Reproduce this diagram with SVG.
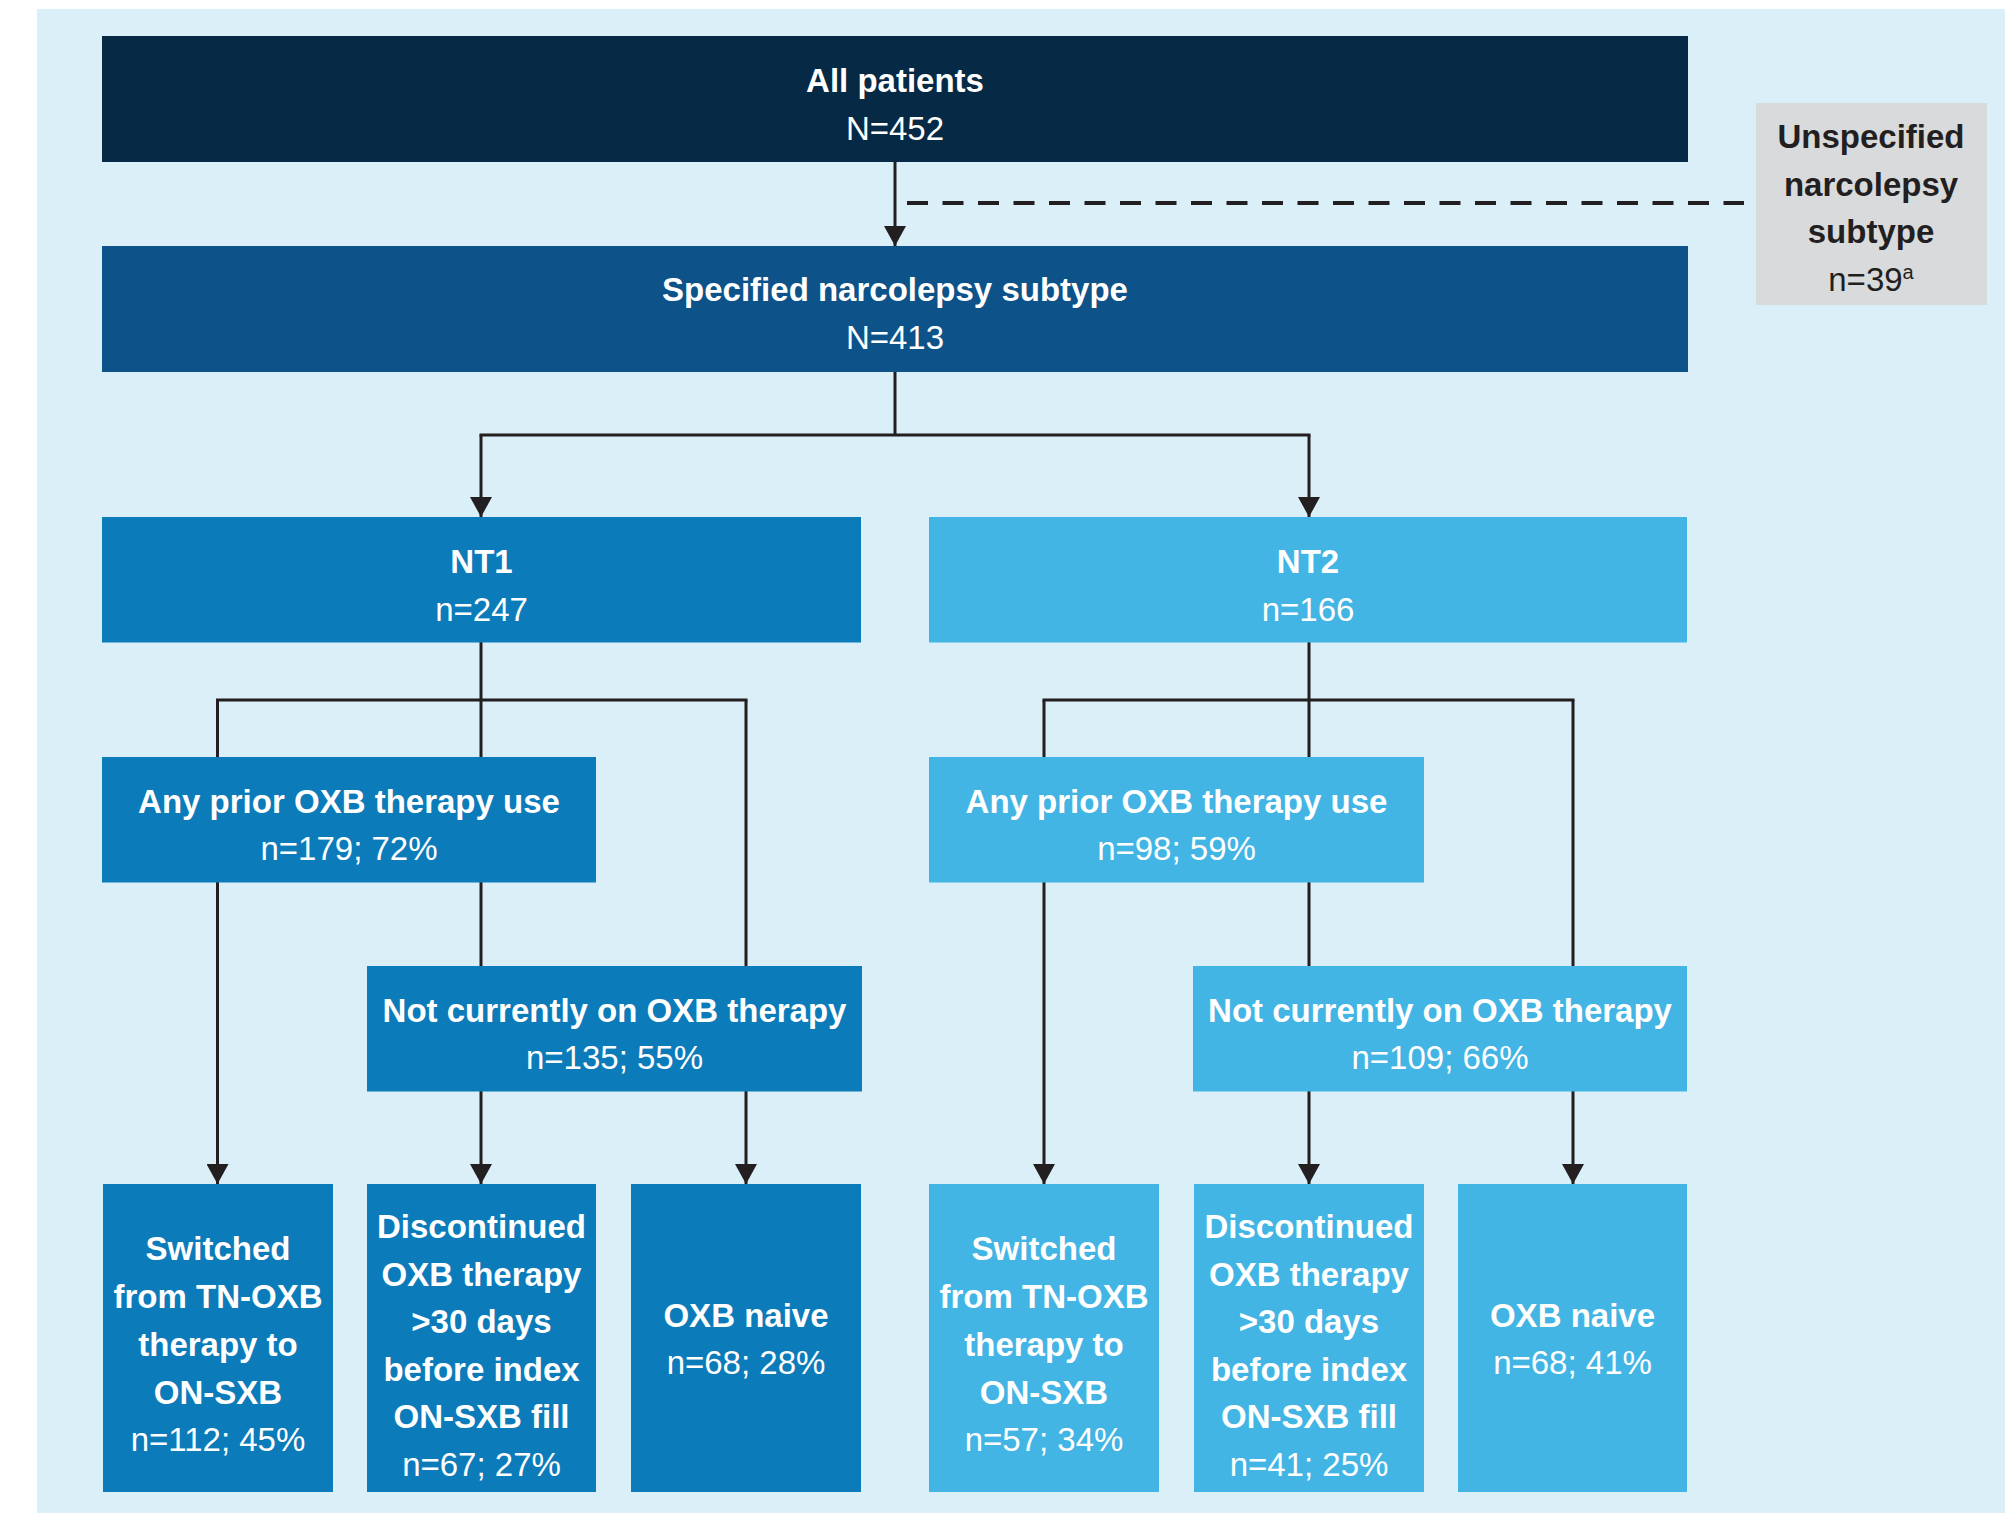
<svg xmlns="http://www.w3.org/2000/svg" width="2005" height="1513" viewBox="0 0 2005 1513">
<style>
text{font-family:"Liberation Sans",Arial,sans-serif;font-size:33px;text-anchor:middle;fill:#ffffff}
.b{font-weight:bold}
.dk{fill:#231F20}
.ln{fill:none;stroke:#231F20;stroke-width:3}
.ar{marker-end:url(#ah)}
.dash{fill:none;stroke:#231F20;stroke-width:4;stroke-dasharray:21 14.5}
.c0{fill:#062945}.c1{fill:#0D5289}.c2{fill:#0C7BBA}.c3{fill:#43B5E4}.cg{fill:#D9DADC}
</style>
<defs>
<marker id="ah" markerUnits="userSpaceOnUse" viewBox="0 0 20 22" refX="20" refY="11" markerWidth="20" markerHeight="22" orient="auto">
<path d="M0,0 L20,11 L0,22 Z" fill="#231F20"/>
</marker>
</defs>
<rect x="0" y="0" width="2005" height="1513" fill="#ffffff"/>
<rect x="37" y="9" width="1968" height="1504" fill="#DAEFF8"/>
<g id="connectors">
<path class="ln ar" d="M895,162 V246"/>
<path class="dash" d="M907,203 H1744"/>
<path class="ln" d="M895,372 V435"/>
<path class="ln" d="M481,435 H1309" stroke-linecap="square"/>
<path class="ln ar" d="M481,435 V517"/>
<path class="ln ar" d="M1309,435 V517"/>
<path class="ln" d="M481,642 V700"/>
<path class="ln" d="M217.5,700 H746" stroke-linecap="square"/>
<path class="ln ar" d="M217.5,700 V1184"/>
<path class="ln ar" d="M481,700 V1184"/>
<path class="ln ar" d="M746,700 V1184"/>
<path class="ln" d="M1309,642 V700"/>
<path class="ln" d="M1044,700 H1573" stroke-linecap="square"/>
<path class="ln ar" d="M1044,700 V1184"/>
<path class="ln ar" d="M1309,700 V1184"/>
<path class="ln ar" d="M1573,700 V1184"/>
</g>
<g id="all-patients">
<rect class="c0" x="102" y="36" width="1586" height="126"/>
<text class="b" x="895" y="92">All patients</text>
<text x="895" y="139.5">N=452</text>
</g>
<g id="unspecified">
<rect class="cg" x="1756" y="103" width="231" height="202"/>
<text class="b dk" x="1871" y="148">Unspecified</text>
<text class="b dk" x="1871" y="196">narcolepsy</text>
<text class="b dk" x="1871" y="243">subtype</text>
<text class="dk" x="1871" y="291">n=39<tspan font-size="20" dy="-12">a</tspan></text>
</g>
<g id="specified">
<rect class="c1" x="102" y="246" width="1586" height="126"/>
<text class="b" x="895" y="301">Specified narcolepsy subtype</text>
<text x="895" y="349">N=413</text>
</g>
<g id="nt1">
<rect class="c2" x="102" y="517" width="759" height="125.5"/>
<text class="b" x="481.5" y="573">NT1</text>
<text x="481.5" y="621">n=247</text>
</g>
<g id="nt2">
<rect class="c3" x="929" y="517" width="758" height="125.5"/>
<text class="b" x="1308" y="573">NT2</text>
<text x="1308" y="621">n=166</text>
</g>
<g id="nt1-prior">
<rect class="c2" x="102" y="757" width="494" height="125.5"/>
<text class="b" x="349" y="813">Any prior OXB therapy use</text>
<text x="349" y="860">n=179; 72%</text>
</g>
<g id="nt2-prior">
<rect class="c3" x="929" y="757" width="495" height="125.5"/>
<text class="b" x="1176.5" y="813">Any prior OXB therapy use</text>
<text x="1176.5" y="860">n=98; 59%</text>
</g>
<g id="nt1-notcurrent">
<rect class="c2" x="367" y="966" width="495" height="125.5"/>
<text class="b" x="614.5" y="1022">Not currently on OXB therapy</text>
<text x="614.5" y="1069">n=135; 55%</text>
</g>
<g id="nt2-notcurrent">
<rect class="c3" x="1193" y="966" width="494" height="125.5"/>
<text class="b" x="1440" y="1022">Not currently on OXB therapy</text>
<text x="1440" y="1069">n=109; 66%</text>
</g>
<g id="nt1-switched">
<rect class="c2" x="103" y="1184" width="230" height="308"/>
<text class="b" x="218" y="1260">Switched</text>
<text class="b" x="218" y="1308">from TN-OXB</text>
<text class="b" x="218" y="1356">therapy to</text>
<text class="b" x="218" y="1404">ON-SXB</text>
<text x="218" y="1451">n=112; 45%</text>
</g>
<g id="nt1-discontinued">
<rect class="c2" x="367" y="1184" width="229" height="308"/>
<text class="b" x="481.5" y="1238">Discontinued</text>
<text class="b" x="481.5" y="1285.5">OXB therapy</text>
<text class="b" x="481.5" y="1333">&gt;30 days</text>
<text class="b" x="481.5" y="1380.5">before index</text>
<text class="b" x="481.5" y="1428">ON-SXB fill</text>
<text x="481.5" y="1475.5">n=67; 27%</text>
</g>
<g id="nt1-naive">
<rect class="c2" x="631" y="1184" width="230" height="308"/>
<text class="b" x="746" y="1327">OXB naive</text>
<text x="746" y="1374">n=68; 28%</text>
</g>
<g id="nt2-switched">
<rect class="c3" x="929" y="1184" width="230" height="308"/>
<text class="b" x="1044" y="1260">Switched</text>
<text class="b" x="1044" y="1308">from TN-OXB</text>
<text class="b" x="1044" y="1356">therapy to</text>
<text class="b" x="1044" y="1404">ON-SXB</text>
<text x="1044" y="1451">n=57; 34%</text>
</g>
<g id="nt2-discontinued">
<rect class="c3" x="1194" y="1184" width="230" height="308"/>
<text class="b" x="1309" y="1238">Discontinued</text>
<text class="b" x="1309" y="1285.5">OXB therapy</text>
<text class="b" x="1309" y="1333">&gt;30 days</text>
<text class="b" x="1309" y="1380.5">before index</text>
<text class="b" x="1309" y="1428">ON-SXB fill</text>
<text x="1309" y="1475.5">n=41; 25%</text>
</g>
<g id="nt2-naive">
<rect class="c3" x="1458" y="1184" width="229" height="308"/>
<text class="b" x="1572.5" y="1327">OXB naive</text>
<text x="1572.5" y="1374">n=68; 41%</text>
</g>
</svg>
